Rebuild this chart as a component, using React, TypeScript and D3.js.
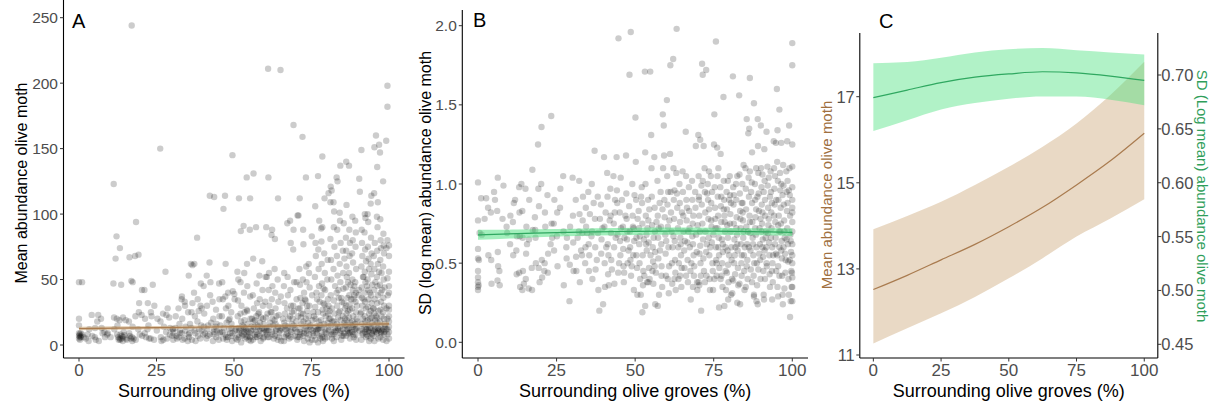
import React from "react";
import * as d3 from "d3";

// ---------- DATA ----------
const xTicks = [0, 25, 50, 75, 100];
const abundanceTicks = [0, 50, 100, 150, 200, 250];
const sdTicks = [0, 0.5, 1, 1.5, 2];
const meanTicksC = [11, 13, 15, 17];
const sdTicksC = [0.45, 0.5, 0.55, 0.6, 0.65, 0.7];

// Panel A: surrounding olive groves (%) vs mean abundance
const abundancePoints: [number, number][] = [
  [0,48],[1,48],[0,20],[0,15],[0,9],[0.2,8],[0,7],[0.3,6],[0,5],[0.5,7],[0.3,4],[1,8],[0.6,6],
  [2.2,5],[3.1,3],[2.8,8],[4.1,23],[4.3,7],[5.2,13],[5.4,4],[6.2,23],[5.9,18],[6.4,3],[7.1,20],[7.3,13],[7.6,9],[8.2,10],[8.4,6],[9.1,8],[9.3,9],[10.2,6],[3.3,12],[5.1,6],
  [11.2,123],[12.1,83],[11.8,66],[13.2,74],[11.1,47],[13.6,46],[11.3,21],[12.2,20],[13.1,19],[14.2,21],[12.4,15],[12.3,8],[12.6,6],[13.1,5],[13.3,4],[14.1,3],[14.4,10],[13.8,7],[14.6,7.5],[14.2,6],[13.4,8],[15.1,19],[15.3,5],[11.4,12],
  [17,244],[18.4,94],[16.3,67],[18.1,68],[19.2,69],[16.9,49],[17.3,48],[19.3,25],[18.2,22],[16.1,18],[17.3,14],[16.2,9],[16.4,7],[17.1,6],[17.6,5],[17.2,3],[15.4,4],[19.4,32],[20.3,42],[19.1,12],[18.3,4],[19.6,8],
  [21.1,42],[22.2,32],[23.8,46],[23.2,25],[21.3,20],[22.4,15],[22.1,12],[21.2,9],[20.4,7],[23.1,5],[24.2,4],[21.6,6],[25.1,11],[24.3,30],[23.4,22],[20.2,23],[25.3,20],[22.6,5],
  [26.2,150],[27.9,56],[27.1,24],[28.2,23],[29.1,21],[26.3,18],[27.4,14],[28.1,10],[29.3,8],[26.4,6],[27.2,4],[26.6,3],[28.4,5],[30.2,12],[28.6,28],[29.4,13],[30.1,7],[30.4,4],
  [33.1,35],[34.2,30],[32.1,28],[31.2,22],[33.3,20],[32.4,16],[31.1,13],[34.3,11],[33.2,9],[31.4,7],[32.2,6],[34.1,5],[33.4,4],[35.1,3],[30.3,12],[34.4,14],[35.2,25],[34.1,33],[33.2,37],[32.6,9],[35.3,8],[31.6,5],
  [36.1,62],[37.2,62],[36.6,61],[35.4,53],[38.1,82],[39.3,47],[40.2,45],[37.1,40],[38.3,35],[39.2,30],[36.3,25],[37.4,22],[38.2,18],[39.4,15],[36.2,13],[37.3,11],[35.6,9],[38.4,7],[39.1,5],[36.4,4],[37.6,3],[40.1,8],[38.6,26],[39.6,28],[36.6,32],[35.8,16],[38.8,12],[40.3,14],
  [42.2,114],[43.6,113],[42.1,63],[41.2,53],[42.4,48],[45.2,47],[42.3,38],[43.1,33],[41.3,30],[44.2,27],[40.4,24],[43.3,20],[42.6,17],[44.1,14],[41.4,12],[43.4,10],[42.2,8],[44.3,6],[41.1,5],[45.1,4],[43.2,3],[40.6,9],[44.4,16],[45.3,22],[43.6,12],[41.6,15],[45.4,9],
  [47.1,114],[46.6,104],[49.5,145],[47.3,62],[46.2,48],[49.6,41],[48.1,40],[47.2,37],[45.3,35],[46.4,35],[48.2,30],[47.4,28],[49.1,25],[46.1,22],[48.3,19],[47.6,17],[45.6,15],[49.2,13],[48.4,12],[46.3,10],[47.2,8],[49.3,7],[48.1,6],[46.5,5],[47.7,4],[49.4,3],[48.6,20],[50.2,35],[50.1,39],[49.2,16],[46.7,13],[48.8,9],[50.3,11],
  [51.6,112],[54.1,128],[53.1,91],[52.2,87],[55.1,88],[54.2,62],[51.1,56],[53.3,55],[51.4,50],[52.1,48],[54.3,45],[53.2,40],[55.2,37],[51.3,34],[52.4,30],[54.1,27],[53.4,25],[51.2,22],[55.3,20],[52.3,18],[54.4,16],[53.1,14],[51.6,13],[52.2,12],[54.2,11],[53.3,10],[55.1,9],[51.4,8],[52.6,7],[54.1,6],[53.6,5],[51.1,4],[55.4,3],[52.3,2],[53.8,12],[54.6,10],[55.6,14],[52.1,24],[54.3,26],[53.2,8],[52.7,15],[55.2,6],[51.7,11],[53.4,19],[50.6,5],[54.8,4],
  [56.3,131],[55.2,112],[57.1,90],[56.2,66],[59.1,64],[58.2,53],[57.3,47],[59.2,42],[56.1,38],[58.3,35],[57.4,32],[59.3,30],[56.4,28],[58.1,25],[57.2,22],[59.4,20],[56.3,18],[58.4,17],[57.6,15],[59.1,13],[56.2,12],[58.2,11],[57.1,10],[59.2,9],[56.6,8],[58.3,7],[57.4,6],[59.4,5],[56.1,4],[58.6,3],[57.7,14],[59.6,16],[56.8,19],[58.7,21],[60.2,52],[60.1,33],[57.8,24],[59.7,12],[56.9,6],[60.3,10],
  [61,211],[61.1,128],[64.2,112],[60.4,90],[62.1,84],[63.2,81],[62.3,88],[63.1,58],[61.3,55],[60.6,52],[64.1,50],[62.4,45],[61.2,42],[63.3,40],[65.1,37],[62.2,35],[64.3,33],[61.4,30],[63.4,28],[62.1,25],[64.4,23],[60.3,21],[63.1,19],[61.6,17],[62.6,15],[64.2,14],[60.5,13],[63.6,12],[61.1,11],[62.3,10],[64.6,9],[60.7,8],[63.2,7],[61.3,6],[62.8,5],[64.1,4],[65.2,3],[62.4,20],[63.7,22],[65.3,13],[61.8,25],[64.8,11],[63.4,16],[60.9,6],
  [65,210],[67.2,93],[68.1,95],[70.5,99],[69.2,88],[68.3,78],[69.1,73],[66.2,55],[67.3,52],[69.4,48],[66.1,45],[68.2,42],[67.4,38],[70.2,35],[66.3,32],[68.4,30],[67.1,28],[69.3,26],[66.4,24],[68.1,22],[67.6,20],[70.1,18],[66.2,17],[68.6,16],[69.2,15],[67.3,13],[66.6,12],[68.3,11],[70.3,10],[67.2,9],[66.8,8],[69.6,7],[68.4,6],[67.8,5],[70.4,4],[66.1,3],[69.1,30],[68.7,25],[67.4,14],[70.6,22],[69.8,12],[66.3,6],[70.2,48],[68.9,20],
  [69.2,168],[72.1,159],[71.2,112],[73.2,128],[70.8,99],[72.3,88],[75.1,83],[72.4,77],[74.1,62],[73.3,60],[71.1,58],[74.2,55],[72.2,50],[73.4,48],[71.3,46],[74.4,44],[72.6,40],[75.2,38],[71.4,36],[73.1,34],[72.1,32],[74.3,30],[71.2,28],[73.6,26],[72.3,24],[74.1,22],[71.6,21],[73.2,20],[75.3,19],[72.4,18],[71.8,16],[74.6,15],[73.3,14],[72.8,12],[75.4,11],[71.3,10],[73.4,9],[74.2,8],[72.2,7],[71.1,6],[73.8,5],[75.1,4],[72.6,3],[74.4,2],[73.6,30],[75.6,25],[71.7,24],[74.8,12],[72.9,35],[73.9,17],[75.7,7],[71.4,8],
  [78.5,144],[77.1,129],[79.2,112],[81.1,109],[76.2,106],[77.5,95],[78.5,90],[78.1,89],[78.2,79],[76.3,78],[77.2,73],[79.1,70],[76.4,68],[80.2,65],[78.3,62],[77.3,58],[79.3,55],[76.1,52],[80.1,50],[78.4,47],[77.4,45],[79.4,42],[76.6,40],[78.2,38],[80.3,35],[77.6,33],[79.2,31],[76.2,29],[78.6,27],[77.1,25],[80.4,24],[79.6,22],[76.3,20],[78.1,19],[77.3,18],[80.2,17],[79.1,16],[76.4,14],[78.3,13],[77.2,12],[80.6,11],[79.3,10],[76.7,9],[78.4,8],[77.6,7],[80.1,6],[79.4,5],[76.2,4],[78.7,3],[77.1,2],[79.8,28],[76.8,35],[78.8,24],[80.7,20],[77.8,15],[79.7,9],[76.9,12],[80.5,30],[78.9,43],[77.9,5],
  [86.2,140],[84.3,137],[83.1,128],[83.4,125],[81.2,121],[81.5,118],[80.5,116],[82.1,109],[84.1,101],[82.3,102],[84.2,95],[82.2,90],[83.3,88],[81.1,81],[84.4,78],[82.4,75],[85.1,72],[83.2,68],[81.3,65],[84.1,62],[82.1,58],[85.2,55],[83.4,53],[81.4,50],[84.3,48],[82.6,45],[85.3,43],[83.1,40],[81.2,38],[84.6,36],[82.2,34],[85.4,32],[83.3,30],[81.6,28],[84.2,26],[82.4,24],[85.1,22],[83.6,21],[81.1,20],[84.4,19],[82.3,18],[85.6,17],[83.2,16],[81.3,15],[84.1,14],[82.6,13],[85.2,12],[83.4,11],[81.4,10],[84.3,9],[82.1,8],[85.3,7],[83.1,6],[81.6,5],[84.6,4],[82.2,3],[83.8,25],[84.8,33],[85.7,15],[81.8,18],[82.8,11],[84.9,7],[83.7,42],[85.8,28],
  [87.1,137],[86.3,107],[88.2,98],[89.1,95],[85.4,93],[87.2,88],[89.3,86],[86.1,82],[88.3,80],[87.4,78],[89.2,75],[86.2,72],[88.1,70],[87.3,68],[85.6,66],[88.4,63],[86.3,60],[89.4,58],[87.1,55],[86.4,52],[88.2,50],[89.1,48],[87.6,46],[86.1,44],[88.3,42],[89.3,40],[87.2,38],[86.6,36],[88.6,35],[89.2,33],[87.3,31],[86.2,30],[88.1,28],[87.4,27],[89.4,25],[86.3,24],[88.4,22],[87.1,21],[89.6,20],[86.4,19],[88.2,18],[87.6,17],[89.1,16],[86.1,15],[88.3,14],[87.2,13],[89.3,12],[86.6,11],[88.1,10],[87.3,9],[89.2,8],[86.2,7],[88.6,6],[87.4,5],[89.4,4],[88.8,45],[87.8,35],[86.8,26],[89.8,18],[88.9,12],[87.9,15],[86.9,9],[90.2,38],[90.3,42],[89.7,30],
  [91.1,149],[90.4,127],[90.6,117],[94.3,114],[94.1,108],[92.2,100],[93.1,100],[92.4,97],[93.3,94],[91.2,88],[92.1,86],[94.2,82],[91.3,78],[93.2,75],[92.3,73],[94.4,70],[91.4,68],[93.4,66],[92.6,64],[94.1,62],[91.1,60],[93.6,58],[92.2,56],[94.3,54],[91.6,52],[93.1,50],[92.4,48],[94.6,46],[91.2,44],[93.3,42],[92.1,40],[94.2,38],[91.3,36],[93.4,35],[92.3,33],[94.4,32],[91.4,30],[93.2,29],[92.6,28],[94.1,26],[91.1,25],[93.6,24],[92.2,22],[94.3,21],[91.6,20],[93.1,19],[92.4,18],[94.6,17],[91.2,16],[93.3,15],[92.1,14],[94.2,13],[91.3,12],[93.4,11],[92.3,10],[94.4,9],[91.4,8],[93.2,7],[92.6,6],[94.1,5],[91.1,4],[93.6,3],[92.8,12],[94.8,11],[93.8,13],[92.9,45],[91.8,35],[94.9,28],[93.9,20],[92.7,8],
  [95.8,160],[95.3,151],[96.8,153],[97.1,147],[96.2,136],[98.1,125],[95.2,116],[96.4,109],[96.1,98],[97.2,96],[96.3,90],[98.2,85],[97.3,80],[95.4,78],[98.3,76],[97.4,74],[96.2,72],[98.4,70],[95.1,68],[97.2,65],[96.4,62],[98.1,60],[95.3,58],[97.6,55],[96.1,52],[98.3,50],[95.6,48],[97.1,46],[96.3,45],[98.6,44],[95.2,42],[97.3,40],[96.4,38],[98.2,36],[95.4,35],[97.4,33],[96.2,32],[98.4,30],[95.1,28],[97.2,27],[96.6,26],[98.1,25],[95.3,24],[97.6,22],[96.1,21],[98.3,20],[95.6,19],[97.1,18],[96.3,17],[98.6,16],[95.2,15],[97.3,14],[96.4,13],[98.2,12],[95.4,11],[97.4,10],[96.2,9],[98.4,8],[95.1,7],[97.2,6],[96.6,5],[98.1,4],[95.3,3],[96.8,12],[97.8,11],[95.8,10],[98.7,14],
  [99.5,198],[99.5,182],[99.1,156],[99.5,80],[100,76],[99.2,74],[100,68],[100,56],[99.5,51],[100,45],[99.6,38],[100,30],[99.2,28],[100,22],[99.5,20],[100,14],[99.1,12],[100,10],[99.5,8],[100,5],[99.2,3],[100,27],[100,40],[100,18],
  [45.5,10],[47.5,6],[49.5,9],[50.5,12],[51.5,6],[52.5,9],[53.5,13],[54.5,7],[55.5,11],[56.5,14],[57.5,8],[58.5,12],[59.5,6],[60.5,11],[61.5,14],[62.5,8],[63.5,11],[64.5,6],[65.5,12],[66.5,15],[67.5,7],[68.5,10],[69.5,13],[70.5,6],[71.5,12],[72.5,9],[73.5,11],[74.5,14],[75.5,9],[76.5,11],[77.5,13],[78.5,6],[79.5,12],[80.5,14],[81.5,8],[82.5,10],[83.5,13],[84.5,11],[85.5,9],[86.5,12],[87.5,10],[88.5,8],[89.5,13],[90.5,11],[91.5,9],[92.5,12],[93.5,10],[94.5,8],[95.5,12],[96.5,11],[97.5,9],[98.5,10],[99.5,12],
  [55.8,20],[60.8,24],[65.8,20],[70.8,28],[75.8,22],[80.8,26],[85.8,20],[90.8,24],[95.8,22],[78.8,32],[83.8,36],[88.8,38],[93.8,40],[97.8,42],[86.8,48],[91.8,52],[96.8,56],
  [30.5,9],[32.5,11],[35.5,6],[37.5,9],[39.5,11],[41.5,7],[43.5,8],[44.5,11],[1.5,6],[0.5,9],[13.7,5],[16.7,5],[12.8,4],
];

// Panel B: surrounding olive groves (%) vs SD (log mean) abundance
const sdPoints: [number, number][] = [
  [0,1.01],[1,0.91],[0,0.77],[0.5,0.69],[1.2,0.68],[0,0.59],[0,0.53],[0.3,0.52],[0,0.45],[0,0.41],[0,0.38],[0,0.35],[0,0.33],[0.2,0.36],[2.1,0.78],[3.2,0.85],[2.6,0.91],[4.1,0.82],[3.3,0.55],[4.2,0.52],[5.1,0.95],[5.4,0.9],[6.1,0.83],[4.3,0.37],[6.3,1.04],[6.4,0.48],[6.8,0.45],[6.2,0.39],[6.9,0.36],[6.3,0.57],[8.1,0.99],[7.8,0.78],
  [9.1,0.73],[9.3,0.69],[10.2,0.62],[11.1,0.76],[12.2,0.58],[11.8,0.9],[13.1,0.98],[13.8,1.0],[13.2,0.82],[14.1,0.83],[13.3,0.67],[14.2,0.66],[12.3,0.43],[13.1,0.44],[14.3,0.45],[13.4,0.35],[14.1,0.33],[15.2,0.4],[15.1,0.97],[15.3,0.56],[11.2,0.55],[12.4,0.67],[10.3,0.8],[11.4,0.88],[15.4,0.73],[14.6,0.37],[15.6,0.62],
  [16.2,0.65],[16.1,0.34],[17.2,0.33],[17.1,0.47],[17.3,1.09],[18.1,0.79],[18.2,0.71],[18.3,0.66],[18.4,0.5],[19.1,1.25],[19.2,0.97],[19.3,0.47],[19.4,0.86],[20.2,1.36],[20.1,1.0],[20.3,0.52],[21.1,0.45],[21.2,0.5],[21.3,0.82],[22.1,0.93],[22.2,0.44],[22.3,0.56],[23.3,1.43],[23.1,0.62],[23.4,0.75],[24.1,0.75],[24.2,0.58],[24.3,0.9],[25.1,0.67],[25.2,0.82],[21.4,0.73],[23.6,0.66],[17.4,0.71],[19.6,0.38],[16.3,0.9],[25.3,0.48],[20.4,0.41],
  [26.1,0.85],[26.2,0.97],[27.1,1.05],[27.2,0.7],[27.3,0.36],[28.1,0.6],[28.2,0.53],[28.3,0.66],[29.1,0.26],[29.2,0.49],[29.3,0.73],[30.1,1.04],[30.2,0.8],[30.3,0.63],[31.1,0.9],[31.2,0.54],[31.3,0.45],[32.1,0.7],[32.2,1.02],[32.3,0.81],[33.1,0.55],[33.2,0.69],[33.3,0.77],[33.4,0.92],[34.1,0.5],[34.2,0.6],[34.3,0.85],[34.4,0.73],[35.1,0.95],[35.2,0.62],[35.3,0.45],[35.4,0.55],[35.6,0.81],[36.1,0.67],[36.2,1.0],[36.3,0.7],[36.4,0.4],[30.4,0.45],[32.4,0.38],
  [37.1,1.21],[37.2,0.78],[37.3,0.6],[37.4,0.46],[38.1,0.92],[38.2,0.69],[38.3,0.33],[38.6,0.2],[39.1,0.87],[39.2,0.56],[39.8,0.24],[39.3,0.65],[40.1,1.17],[40.2,0.73],[40.3,0.5],[40.4,0.35],[41.1,1.07],[41.2,0.92],[41.3,0.62],[41.4,0.43],[42.1,0.97],[42.2,0.8],[42.3,0.69],[42.4,0.52],[43.1,1.05],[43.2,0.75],[43.3,0.6],[43.4,0.37],[44.1,1.17],[44.2,0.96],[44.3,0.88],[44.4,0.68],[44.6,0.44],[44.7,1.92],[45.1,0.82],[45.2,0.64],[45.3,0.55],[45.4,1.04],[46.1,0.73],[46.2,0.59],[46.3,0.48],[46.4,0.38],[42.6,0.46],[40.6,0.82],[38.8,0.78],[43.6,0.9],[41.6,0.36],
  [47.1,1.18],[47.2,0.94],[47.3,0.78],[47.4,0.65],[47.6,0.5],[48.2,1.69],[48.6,1.96],[48.1,0.86],[48.3,0.7],[48.4,0.6],[48.7,0.42],[49.1,1.0],[49.2,0.8],[49.3,0.73],[49.4,0.55],[49.6,0.33],[50.1,1.42],[50.2,1.14],[50.3,0.9],[50.4,0.66],[50.6,0.47],[50.7,0.3],[51.1,0.83],[51.2,0.72],[51.3,0.62],[51.4,0.5],[51.6,0.4],[52.1,0.98],[52.2,0.88],[52.3,0.75],[52.4,0.55],[52.6,0.45],[52.3,0.19],[53.1,1.71],[53.2,1.2],[53.3,1.0],[53.4,0.8],[53.6,0.68],[53.7,0.58],[53.8,0.38],[53.2,0.23],[54.8,1.71],[54.1,0.9],[54.2,0.77],[54.3,0.63],[54.4,0.47],[54.6,0.4],[55.1,1.31],[55.2,1.1],[55.3,0.92],[55.4,0.74],[55.6,0.6],[55.7,0.51],[55.8,0.37],[52.8,0.65],[54.9,0.55],[51.8,0.3],[49.8,0.93],[46.6,0.66],
  [56.1,1.17],[56.2,0.85],[56.3,0.7],[56.4,0.57],[56.6,0.44],[56.4,0.24],[57.1,1.02],[57.2,0.8],[57.3,0.66],[57.4,0.53],[57.6,0.3],[57.2,0.23],[58.1,0.95],[58.2,0.73],[58.3,0.62],[58.4,0.48],[58.6,0.35],[58.8,1.44],[59.1,1.37],[59.2,1.18],[59.3,0.9],[59.4,0.79],[59.6,0.68],[59.7,0.56],[59.8,0.42],[60.1,1.53],[60.2,1.05],[60.3,0.87],[60.4,0.73],[60.6,0.6],[60.7,0.31],[61.1,1.19],[61.2,1.75],[61.3,0.95],[61.4,0.82],[61.6,0.7],[61.7,0.5],[61.8,0.37],[62.1,1.79],[62.2,1.1],[62.3,0.9],[62.4,0.78],[62.6,0.64],[62.7,0.52],[62.8,0.44],[63.2,1.98],[63.1,1.07],[63.3,0.94],[63.4,0.85],[63.6,0.72],[63.7,0.6],[63.8,0.4],[64.1,1.0],[64.2,0.88],[64.3,0.76],[64.4,0.66],[64.6,0.55],[64.7,0.35],[65.1,1.08],[65.2,0.95],[65.3,0.8],[65.4,0.7],[65.6,0.58],[65.7,0.47],[58.9,1.1],[60.8,0.48],[62.9,0.33],[57.8,0.88],[64.8,0.47],
  [66.1,1.33],[66.2,1.05],[66.3,0.9],[66.4,0.77],[66.6,0.63],[66.7,0.52],[66.8,0.38],[67.1,0.98],[67.2,0.83],[67.3,0.72],[67.4,0.6],[67.6,0.45],[67.7,0.27],[68.1,1.02],[68.2,0.9],[68.3,0.75],[68.4,0.62],[68.6,0.55],[68.7,0.42],[69.3,1.24],[69.1,0.95],[69.2,0.85],[69.4,0.68],[69.6,0.57],[69.7,0.38],[69.8,0.33],[70.1,1.31],[70.2,1.05],[70.3,0.92],[70.4,0.8],[70.6,0.7],[70.7,0.61],[70.8,0.5],[70.9,0.42],[70.7,1.28],[71.3,1.76],[71.5,1.69],[71.1,0.99],[71.2,0.87],[71.4,0.75],[71.6,0.65],[71.7,0.53],[71,0.2],[71.8,1.24],[72.6,1.72],[72.1,1.1],[72.2,0.95],[72.3,0.82],[72.4,0.7],[72.6,0.57],[72.7,0.42],[73.1,1.0],[73.2,0.9],[73.3,0.78],[73.4,0.66],[73.6,0.55],[73.7,0.4],[73.8,0.33],[74.1,1.05],[74.2,0.88],[74.3,0.73],[74.4,0.63],[74.6,0.5],[74.7,0.45],[74.8,0.33],[75.2,1.44],[75.1,1.25],[75.3,0.98],[75.4,0.85],[75.6,0.72],[75.7,0.6],[75.8,0.52],[75.9,0.42],[68.8,0.48],[73.9,0.6],[70.4,0.36],
  [75.7,1.9],[76.1,1.23],[76.2,1.05],[76.3,0.92],[76.4,0.8],[76.6,0.66],[76.7,0.55],[76.8,0.47],[76.7,0.22],[77.2,1.19],[77.1,0.98],[77.3,0.86],[77.4,0.76],[77.6,0.65],[77.7,0.5],[77.8,0.35],[78.1,1.55],[78.2,1.02],[78.3,0.9],[78.4,0.8],[78.6,0.7],[78.7,0.6],[78.8,0.45],[78.4,0.23],[79.1,0.95],[79.2,0.84],[79.3,0.74],[79.4,0.58],[79.6,0.49],[79.7,0.38],[79.6,0.27],[80.1,1.05],[80.2,0.93],[80.3,0.81],[80.4,0.7],[80.6,0.6],[80.7,0.52],[80.8,0.4],[81.1,1.68],[81.2,0.98],[81.3,0.87],[81.4,0.75],[81.6,0.65],[81.7,0.55],[81.8,0.43],[80.9,0.31],[82.1,1.0],[82.2,0.9],[82.3,0.79],[82.4,0.68],[82.6,0.58],[82.7,0.47],[82.8,0.36],[83.1,1.56],[83.2,1.06],[83.3,0.94],[83.4,0.83],[83.6,0.72],[83.7,0.62],[83.8,0.5],[83.9,0.42],[83.4,0.24],[84.1,1.0],[84.2,0.88],[84.3,0.77],[84.4,0.66],[84.6,0.55],[84.7,0.45],[84.8,0.33],[85.5,1.41],[85.1,1.1],[85.2,0.97],[85.3,0.84],[85.4,0.73],[85.6,0.62],[85.7,0.52],[85.8,0.4],[78.9,0.33],[80.5,0.3],[82.5,0.25],[77.9,0.57],[84.9,0.6],
  [86.5,1.67],[86,1.32],[86.3,1.35],[86.1,1.04],[86.2,0.92],[86.4,0.8],[86.6,0.69],[86.7,0.58],[86.8,0.46],[87.1,1.01],[87.2,0.88],[87.3,0.76],[87.4,0.66],[87.6,0.55],[87.7,0.42],[87.8,0.3],[87.8,1.51],[88.1,1.0],[88.2,0.9],[88.3,0.79],[88.4,0.68],[88.6,0.6],[88.7,0.5],[88.8,0.36],[87.8,0.29],[89,1.41],[89.1,1.24],[89.2,1.07],[89.3,0.94],[89.4,0.83],[89.6,0.72],[89.7,0.62],[89.8,0.52],[89.9,0.4],[88.6,0.26],[89,0.24],[90,1.37],[90.1,1.1],[90.2,0.98],[90.3,0.87],[90.4,0.75],[90.6,0.65],[90.7,0.54],[90.8,0.45],[90.9,0.3],[91.1,1.22],[91.2,1.02],[91.3,0.9],[91.4,0.8],[91.6,0.7],[91.7,0.6],[91.8,0.5],[91,0.27],[91.8,1.33],[92.1,1.11],[92.2,0.99],[92.3,0.85],[92.4,0.74],[92.6,0.63],[92.7,0.55],[92.8,0.43],[92.9,0.35],[93.1,1.08],[93.2,0.95],[93.3,0.82],[93.4,0.72],[93.6,0.6],[93.7,0.5],[93.8,0.38],[94.1,1.27],[94.2,1.1],[94.3,0.97],[94.4,0.87],[94.6,0.76],[94.7,0.66],[94.8,0.56],[94.9,0.45],[93.6,0.27],[95.1,1.6],[95.3,1.34],[94.8,1.26],[95.2,1.14],[95.4,1.02],[95.6,0.9],[95.7,0.8],[95.8,0.7],[95.9,0.6],[95.5,0.48],[95.3,0.35],[95.5,0.29],[87.2,1.2],[91.3,0.4],[93.5,0.88],[90.5,0.6],
  [95.9,1.47],[96.1,1.07],[96.2,0.96],[96.3,0.85],[96.4,0.75],[96.6,0.64],[96.7,0.53],[96.8,0.42],[96.9,0.3],[97.1,1.12],[97.2,0.99],[97.3,0.87],[97.4,0.77],[97.6,0.66],[97.7,0.56],[97.8,0.44],[97,0.24],[98.4,1.27],[98.1,1.08],[98.2,0.95],[98.3,0.83],[98.4,0.72],[98.6,0.62],[98.7,0.51],[98.8,0.4],[98.9,0.3],[99,1.37],[99.1,1.1],[99.2,0.93],[99.3,0.8],[99.4,0.68],[99.6,0.57],[99.7,0.45],[99.8,0.35],[99.3,0.16],[100,1.89],[100,1.75],[100,1.25],[100,1.11],[100,0.98],[100,0.9],[100,0.82],[100,0.76],[100,0.7],[100,0.62],[100,0.55],[100,0.5],[100,0.41],[100,0.35],[100,0.26],[99.5,0.26],[97.5,0.34],[96.5,1.26],
  [31.7,0.66],[32.8,0.58],[34.7,0.69],[36.8,0.88],[37.8,0.52],[39.6,0.72],[40.8,0.6],[41.9,0.77],[43.8,0.66],[44.9,0.5],[45.8,0.9],[46.9,0.8],[47.9,0.58],[48.9,0.48],[49.7,0.64],[50.8,0.78],[51.9,0.92],[52.9,0.42],[53.9,0.72],[54.5,0.84],[55.9,0.66],[56.8,0.76],[57.9,0.58],[58.7,0.84],[59.9,0.64],[60.9,0.77],[61.9,0.6],[62.5,0.96],[63.9,0.5],[64.9,0.82],[65.8,0.64],[66.9,0.7],[67.9,0.5],[68.5,0.8],[69.9,0.74],[70.5,0.56],[71.9,0.45],[72.8,0.62],[73.5,0.84],[74.9,0.68],[75.5,0.78],[76.5,0.6],[77.5,0.42],[78.5,0.76],[79.5,0.66],[80.5,0.88],[81.5,0.5],[82.5,0.62],[83.5,0.78],[84.5,0.7],[85.5,0.48],[86.5,0.76],[87.5,0.62],[88.5,0.84],[89.5,0.56],[90.5,0.82],[91.5,0.66],[92.5,0.78],[93.5,0.45],[94.5,0.62],[95.5,0.74],[96.5,0.58],[97.5,0.7],[98.5,0.88],[99.5,0.64],[100,0.85],
  [70.2,0.38],[72.2,0.38],[75.2,0.4],[77.2,0.4],[79.2,0.44],[81.2,0.39],[83.2,0.37],[85.2,0.35],[87.2,0.38],[89.2,0.46],[91.2,0.58],[93.2,0.66],[95.2,0.55],[97.2,0.6],[99.2,0.52],
  [71.5,1.02],[73.5,1.08],[76.5,1.1],[79.5,1.02],[82.5,1.05],[84.5,1.12],[86.5,1.08],[88.5,1.1],[90.5,1.06],[92.5,1.04],[94.5,1.05],[96.5,1.0],[98.5,1.02],
  [60.5,0.95],[62.2,0.67],[64.5,0.62],[66.5,0.85],[68.2,0.67],[57.5,0.72],[55.5,0.45],[53.5,0.62],[51.5,0.67],[49.5,0.72],[47.5,0.7],[45.5,0.72],[43.5,0.82],[41.5,0.55],
  [74.2,0.77],[76.2,0.72],[78.2,0.84],[80.2,0.75],[82.2,0.72],[84.2,0.82],[86.2,0.6],[88.2,0.72],[90.2,0.7],[92.2,0.69],[94.2,0.8],[96.2,0.7],[98.2,0.65],
  [75.9,0.5],[77.9,0.62],[79.9,0.55],[81.9,0.6],[83.9,0.55],[85.9,0.7],[87.9,0.5],[89.9,0.78],[91.9,0.48],[93.9,0.55],[95.9,0.42],[97.9,0.52],[99.9,0.44],
  [70.3,0.9],[72.9,0.94],[74.5,0.95],[77.4,0.92],[79.9,0.9],[81.4,0.93],[83.9,0.88],[86.9,0.95],[88.9,0.92],[90.9,0.95],[92.9,0.92],[94.9,0.9],[96.9,0.93],[98.9,0.96],
  [66.2,0.42],[68.4,0.35],[64.3,0.42],[62.5,0.4],[60.4,0.4],[58.4,0.42],[56.2,0.48],[54.2,0.38],[52.5,0.36],[50.4,0.55],[48.5,0.52],[46.5,0.44],
];

// Fitted curves, x in %
const fitX = [0, 12.5, 25, 37.5, 50, 62.5, 75, 87.5, 100];
const meanFit = [12.52, 12.85, 13.21, 13.57, 13.98, 14.43, 14.95, 15.51, 16.15];
const meanLower = [11.27, 11.62, 11.97, 12.35, 12.78, 13.25, 13.75, 14.17, 14.62];
const meanUpper = [13.92, 14.23, 14.56, 14.95, 15.37, 15.84, 16.38, 17.04, 17.81];
const sdFit = [0.679, 0.686, 0.693, 0.698, 0.701, 0.703, 0.702, 0.699, 0.695];
const sdLower = [0.648, 0.658, 0.668, 0.674, 0.678, 0.68, 0.68, 0.677, 0.672];
const sdUpper = [0.711, 0.712, 0.716, 0.721, 0.724, 0.725, 0.723, 0.721, 0.719];

// ---------- STYLE ----------
const FONT = "'Liberation Sans', Arial, Helvetica, sans-serif";
const TICK_COLOR = "#4d4d4d";
const BROWN_LINE = "#a97b4f";
const BROWN_FILL = "#c7a06e";
const GREEN_LINE = "#2fa860";
const GREEN_FILL = "#46e07a";

type Scale = d3.ScaleLinear<number, number>;

function XAxis({ x, y, title, fontSize }: { x: Scale; y: number; title: string; fontSize: number }) {
  const [r0, r1] = x.range();
  return (
    <g>
      <line x1={r0} x2={r1} y1={y} y2={y} stroke="#000" strokeWidth={1.1} />
      {xTicks.map((t) => (
        <g key={t}>
          <line x1={x(t)} x2={x(t)} y1={y} y2={y + 3.5} stroke="#333" strokeWidth={1} />
          <text x={x(t)} y={y + 18} textAnchor="middle" fontSize={fontSize} fill={TICK_COLOR} fontFamily={FONT}>
            {t}
          </text>
        </g>
      ))}
      <text x={(r0 + r1) / 2} y={397} textAnchor="middle" fontSize={18} fill="#000" fontFamily={FONT}>
        {title}
      </text>
    </g>
  );
}

function YAxis({
  y, x, top, bottom, ticks, fmt, side, fontSize, gap,
}: {
  y: Scale; x: number; top: number; bottom: number; ticks: number[]; fmt: (v: number) => string; side: "left" | "right"; fontSize: number; gap: number;
}) {
  const dir = side === "left" ? -1 : 1;
  return (
    <g>
      <line x1={x} x2={x} y1={top} y2={bottom} stroke="#000" strokeWidth={1.1} />
      {ticks.map((t) => (
        <g key={t}>
          <line x1={x} x2={x + dir * 3.5} y1={y(t)} y2={y(t)} stroke="#333" strokeWidth={1} />
          <text
            x={x + dir * gap}
            y={y(t)}
            dy="0.36em"
            textAnchor={side === "left" ? "end" : "start"}
            fontSize={fontSize}
            fill={TICK_COLOR}
            fontFamily={FONT}
          >
            {fmt(t)}
          </text>
        </g>
      ))}
    </g>
  );
}

function Points({ pts, x, y }: { pts: [number, number][]; x: Scale; y: Scale }) {
  return (
    <g>
      {pts.map((p, i) => (
        <circle key={i} cx={x(p[0])} cy={y(p[1])} r={3.2} fill="#000" fillOpacity={0.2} />
      ))}
    </g>
  );
}

function Fit({
  x, y, fit, lo, hi, line, fill, fillOpacity,
}: {
  x: Scale; y: Scale; fit: number[]; lo: number[]; hi: number[]; line: string; fill: string; fillOpacity: number;
}) {
  const idx = fitX.map((_, i) => i);
  const area = d3
    .area<number>()
    .x((i) => x(fitX[i]))
    .y0((i) => y(lo[i]))
    .y1((i) => y(hi[i]))
    .curve(d3.curveMonotoneX);
  const ln = d3
    .line<number>()
    .x((i) => x(fitX[i]))
    .y((i) => y(fit[i]))
    .curve(d3.curveMonotoneX);
  return (
    <g>
      <path d={area(idx) || ""} fill={fill} fillOpacity={fillOpacity} stroke="none" />
      <path d={ln(idx) || ""} fill="none" stroke={line} strokeWidth={1.2} />
    </g>
  );
}

export default function App() {
  // Panel A
  const xA = d3.scaleLinear().domain([-5, 105]).range([63.5, 404.5]);
  const yA = d3.scaleLinear().domain([0, 250]).range([345, 17.7]);
  // Panel B
  const xB = d3.scaleLinear().domain([-5, 105]).range([462.3, 808]);
  const yB = d3.scaleLinear().domain([0, 2]).range([342.3, 25.7]);
  // Panel C
  const xC = d3.scaleLinear().domain([-5, 105]).range([859.8, 1157.8]);
  const yCL = d3.scaleLinear().domain([11, 17]).range([355, 96.7]);
  const yCR = d3.scaleLinear().domain([0.45, 0.7]).range([344.3, 75]);

  return (
    <svg
      width={1214}
      height={405}
      style={{ position: "absolute", left: 0, top: 0, background: "#fff" }}
      fontFamily={FONT}
    >
      <rect x={0} y={0} width={1214} height={405} fill="#fff" />

      {/* Panel A */}
      <Points pts={abundancePoints} x={xA} y={yA} />
      <Fit x={xA} y={yA} fit={meanFit} lo={meanLower} hi={meanUpper} line={BROWN_LINE} fill={BROWN_FILL} fillOpacity={0.55} />
      <YAxis y={yA} x={63.5} top={0} bottom={358} ticks={abundanceTicks} fmt={(v) => String(v)} side="left" fontSize={15.5} gap={5.5} />
      <XAxis x={xA} y={358} title="Surrounding olive groves (%)" fontSize={17} />
      <text transform="translate(27,183) rotate(-90)" textAnchor="middle" fontSize={16} fill="#000" fontFamily={FONT}>
        Mean abundance olive moth
      </text>
      <text x={72} y={28} fontSize={20} fill="#000" fontFamily={FONT}>A</text>

      {/* Panel B */}
      <Points pts={sdPoints} x={xB} y={yB} />
      <Fit x={xB} y={yB} fit={sdFit} lo={sdLower} hi={sdUpper} line={GREEN_LINE} fill={GREEN_FILL} fillOpacity={0.5} />
      <YAxis y={yB} x={462.3} top={10} bottom={358} ticks={sdTicks} fmt={(v) => d3.format(".1f")(v)} side="left" fontSize={15.5} gap={5.5} />
      <XAxis x={xB} y={358} title="Surrounding olive groves (%)" fontSize={17} />
      <text transform="translate(431,183) rotate(-90)" textAnchor="middle" fontSize={16} fill="#000" fontFamily={FONT}>
        SD (log mean) abundance olive moth
      </text>
      <text x={473} y={27} fontSize={20} fill="#000" fontFamily={FONT}>B</text>

      {/* Panel C */}
      <Fit x={xC} y={yCL} fit={meanFit} lo={meanLower} hi={meanUpper} line={BROWN_LINE} fill={BROWN_FILL} fillOpacity={0.4} />
      <Fit x={xC} y={yCR} fit={sdFit} lo={sdLower} hi={sdUpper} line={GREEN_LINE} fill={GREEN_FILL} fillOpacity={0.42} />
      <YAxis y={yCL} x={859.8} top={33} bottom={358} ticks={meanTicksC} fmt={(v) => String(v)} side="left" fontSize={16.5} gap={5} />
      <YAxis y={yCR} x={1157.8} top={33} bottom={358} ticks={sdTicksC} fmt={(v) => d3.format(".2f")(v)} side="right" fontSize={16.5} gap={3.5} />
      <XAxis x={xC} y={358} title="Surrounding olive groves (%)" fontSize={17} />
      <text transform="translate(832,195) rotate(-90)" textAnchor="middle" fontSize={15} fill="#a0703f" fontFamily={FONT}>
        Mean abundance olive moth
      </text>
      <text transform="translate(1197,196) rotate(90)" textAnchor="middle" fontSize={15} fill="#2f9e5a" fontFamily={FONT}>
        SD (Log mean) abundance olive moth
      </text>
      <text x={879} y={28} fontSize={20} fill="#000" fontFamily={FONT}>C</text>
    </svg>
  );
}
